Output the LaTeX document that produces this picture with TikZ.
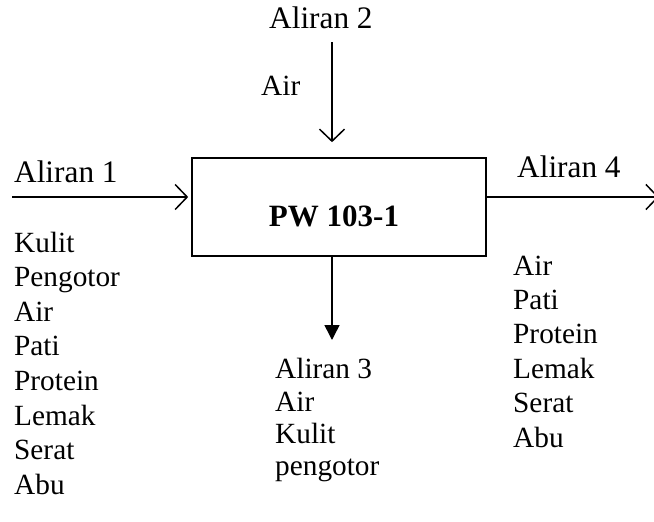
\documentclass[tikz,border=0pt]{standalone}
\usepackage{fontspec}
\setmainfont{Liberation Serif}
\usetikzlibrary{arrows.meta}
\begin{document}
\begin{tikzpicture}[x=1pt,y=-1pt,
  txt/.style={anchor=base west,inner sep=0pt,font=\fontsize{29.3}{34}\selectfont},
  head/.style={anchor=base west,inner sep=0pt,font=\fontsize{31.3}{36}\selectfont},
  flow/.style={line width=1.5pt,-{Straight Barb[length=12pt,width=25pt,line width=1.5pt]}},
  flowfill/.style={line width=1.5pt,-{Triangle[length=15pt,width=15pt]}},
  unit/.style={draw,line width=1.6pt,minimum width=294pt,minimum height=98pt,inner sep=0pt}]
\useasboundingbox (0,0) rectangle (654,522);

% process unit
\node[unit] (pw) at (339,207) {};
\node[anchor=base,inner sep=0pt,font=\fontsize{31}{36}\bfseries\selectfont] (pwl) at (334,226) {PW 103-1};

% stream 1 (feed, left)
\coordinate (s1) at (12,197);
\draw[flow,shorten >=3pt] (s1) -- (s1 -| pw.west);
\node[head] (a1) at (14,182) {Aliran 1};
\foreach \t [count=\i] in {Kulit,Pengotor,Air,Pati,Protein,Lemak,Serat,Abu}
  \node[txt] (l\i) at ({14},{252+34.6*(\i-1)}) {\t};

% stream 2 (water, top)
\coordinate (s2) at (332,42);
\draw[flow,shorten >=15pt] (s2) -- (s2 |- pw.north);
\node[head] (a2) at (269,28) {Aliran 2};
\node[txt] (w2) at (261,95) {Air};

% stream 3 (bottom)
\coordinate (s3) at (332,340);
\draw[flowfill] (s3 |- pw.south) -- (s3);
\node[txt] (a3) at (275,378) {Aliran 3};
\node[txt] (b1) at (275,411) {Air};
\node[txt] (b2) at (275,443) {Kulit};
\node[txt] (b3) at (275,475) {pengotor};

% stream 4 (product, right)
\coordinate (s4) at (659,197);
\draw[flow] (s4 -| pw.east) -- (s4);
\node[head] (a4) at (517,177) {Aliran 4};
\foreach \t [count=\i] in {Air,Pati,Protein,Lemak,Serat,Abu}
  \node[txt] (r\i) at ({513},{275+34.4*(\i-1)}) {\t};
\end{tikzpicture}
\end{document}
